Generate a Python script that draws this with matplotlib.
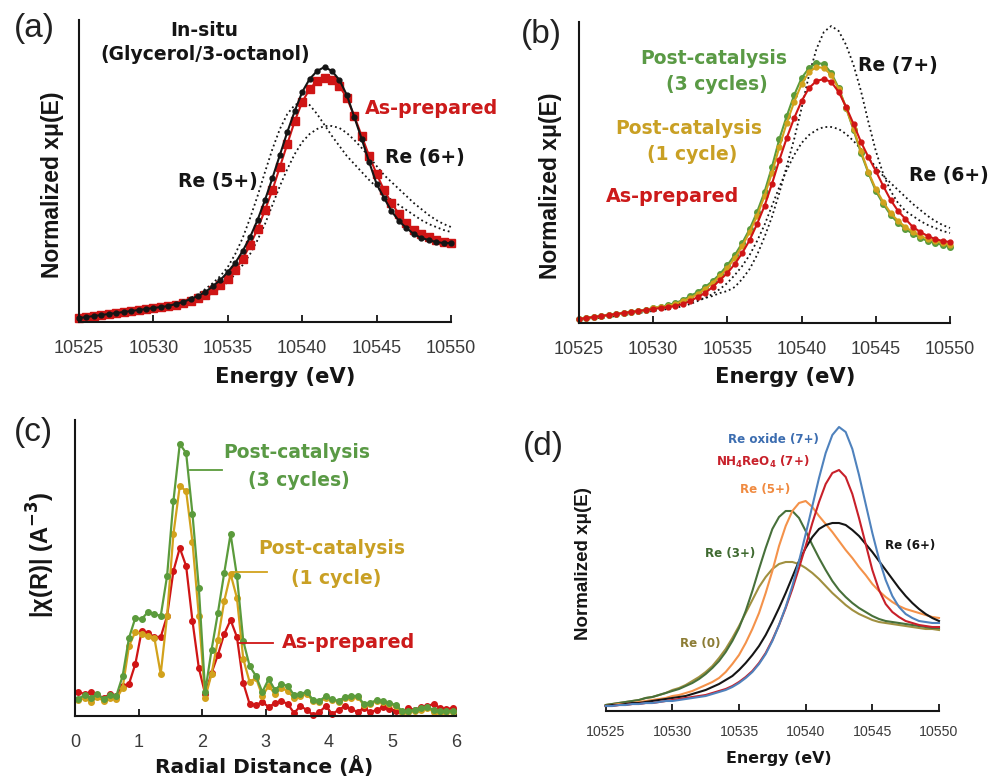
import numpy as np
import matplotlib
matplotlib.use("Agg")
import matplotlib.pyplot as plt

plt.rcParams['mathtext.fontset'] = 'dejavusans'
plt.rcParams['font.family'] = ['DejaVu Sans']

# ---------------- data ----------------
energy = np.linspace(10525, 10550, 51)          # eV, 0.5 eV steps
energy_ticks = [10525, 10530, 10535, 10540, 10545, 10550]

# (a) XANES, arbitrary normalized units
a_insitu = [4, 5, 6, 7, 8, 9, 10, 11, 12, 13, 14, 15, 16, 18, 20, 23, 26, 30, 36, 42,
            50, 59, 71, 85, 102, 122, 144, 167, 190, 211, 230, 243, 251, 255, 251, 242,
            227, 205, 183, 160, 138, 124, 111, 101, 94, 88, 84, 82, 80, 79, 79]
a_asprep = [4, 5, 6, 7, 8, 9, 10, 11, 12, 13, 14, 15, 16, 17, 19, 21, 24, 27, 32, 37,
            43, 52, 63, 77, 93, 112, 132, 155, 178, 201, 220, 233, 241, 244, 242, 236,
            224, 206, 186, 166, 148, 132, 119, 108, 99, 92, 88, 85, 82, 80, 79]
a_re5 = [4, 5, 6, 7, 8, 9, 10, 11, 12, 13, 14, 15, 17, 19, 21, 24, 28, 33, 39, 46,
         55, 68, 84, 104, 126, 150, 173, 193, 208, 217, 220, 217, 208, 197, 186, 176,
         166, 158, 150, 142, 135, 128, 122, 117, 112, 107, 102, 98, 95, 92, 90]
ref_re6 = [3, 4, 5, 5, 6, 7, 8, 9, 10, 11, 12, 13, 14, 15, 17, 19, 22, 25, 29, 34,
           40, 48, 57, 68, 82, 98, 117, 136, 153, 168, 180, 188, 193, 196, 196, 194,
           189, 182, 174, 165, 156, 147, 140, 133, 126, 119, 113, 107, 102, 98, 95]

# (b)
b_cyc3 = [4, 5, 6, 7, 8, 9, 10, 11, 12, 13, 15, 16, 18, 20, 23, 27, 31, 36, 42, 49,
          58, 68, 80, 94, 111, 131, 156, 184, 207, 228, 245, 255, 260, 259, 250, 235,
          215, 193, 170, 150, 132, 119, 108, 100, 94, 89, 85, 82, 80, 78, 76]
b_cyc1 = [4, 5, 6, 7, 8, 9, 10, 11, 12, 13, 15, 16, 17, 19, 22, 25, 29, 34, 40, 47,
          55, 65, 77, 91, 107, 127, 150, 176, 200, 221, 239, 251, 256, 255, 248, 234,
          215, 194, 172, 151, 134, 121, 110, 102, 96, 91, 87, 84, 82, 80, 78]
b_asprep = [4, 5, 6, 7, 8, 9, 10, 11, 12, 13, 14, 15, 16, 17, 19, 22, 26, 30, 36, 43,
            50, 59, 70, 83, 99, 117, 139, 163, 185, 205, 222, 235, 242, 244, 241, 231,
            216, 199, 181, 166, 152, 137, 123, 112, 104, 96, 91, 87, 84, 82, 81]
b_re7 = [4, 5, 6, 7, 8, 9, 10, 11, 12, 13, 15, 16, 17, 19, 20, 22, 23, 25, 27, 30,
         32, 36, 44, 54, 68, 86, 106, 130, 157, 184, 215, 248, 274, 291, 297, 292,
         278, 258, 232, 201, 172, 149, 132, 120, 112, 107, 102, 98, 95, 92, 90]

# (c) FT-EXAFS
radial = np.round(np.arange(0.05, 6.0, 0.1), 2)
r_ticks = [0, 1, 2, 3, 4, 5, 6]
c_cyc3 = [17, 21, 18, 22, 17, 21, 20, 40, 78, 98, 97, 104, 102, 100, 140, 215, 272, 263,
          202, 128, 24, 66, 103, 143, 182, 140, 75, 50, 40, 24, 37, 26, 32, 30, 21, 22,
          24, 16, 15, 20, 17, 15, 19, 20, 20, 12, 13, 16, 15, 13, 11, 5, 5, 6, 8, 9, 6,
          5, 5, 5]
c_cyc1 = [16, 18, 14, 19, 15, 18, 17, 28, 70, 84, 82, 80, 78, 42, 100, 182, 230, 225,
          174, 100, 18, 42, 76, 115, 142, 118, 57, 34, 38, 20, 30, 22, 28, 25, 18, 20,
          22, 15, 14, 18, 16, 14, 18, 18, 19, 11, 12, 15, 14, 12, 10, 4, 4, 5, 6, 8, 4,
          3, 4, 4]
c_asprep = [24, 22, 24, 21, 18, 22, 20, 30, 32, 52, 85, 83, 79, 79, 100, 145, 168, 150,
            95, 48, 22, 43, 61, 82, 96, 79, 33, 12, 11, 14, 9, 13, 15, 12, 3, 10, 6, 1,
            4, 10, 2, 6, 10, 7, 4, 8, 4, 6, 9, 7, 5, 4, 8, 6, 9, 10, 12, 8, 7, 8]

# (d) reference standards
d_oxide7 = [5, 5, 6, 6, 7, 7, 8, 8, 9, 10, 10, 11, 12, 13, 14, 15, 17, 19, 21, 24,
            28, 33, 39, 47, 57, 70, 86, 104, 125, 150, 177, 205, 233, 258, 276, 284,
            279, 262, 236, 207, 178, 152, 131, 115, 104, 97, 93, 90, 89, 88, 88]
d_nh4reo4 = [5, 5, 6, 6, 7, 7, 8, 8, 9, 10, 11, 12, 13, 14, 15, 16, 18, 20, 22, 25,
             29, 34, 40, 48, 58, 71, 86, 103, 122, 143, 165, 188, 209, 227, 238, 241,
             234, 217, 193, 167, 141, 121, 107, 99, 94, 90, 88, 86, 85, 84, 84]
d_re6 = [5, 6, 6, 7, 8, 8, 9, 10, 11, 12, 13, 14, 15, 17, 19, 21, 24, 27, 31, 35,
         41, 48, 56, 65, 76, 89, 103, 118, 134, 150, 163, 174, 182, 186, 188, 188,
         186, 181, 175, 167, 159, 150, 141, 132, 123, 115, 108, 102, 97, 93, 90]
d_re5 = [5, 6, 7, 7, 8, 9, 10, 11, 12, 13, 15, 16, 18, 20, 23, 26, 29, 33, 39, 47,
         56, 68, 82, 98, 118, 140, 165, 185, 200, 208, 210, 204, 195, 187, 179, 170,
         161, 153, 144, 136, 127, 120, 114, 109, 105, 102, 100, 98, 96, 94, 93]
d_re3 = [6, 7, 8, 9, 10, 11, 13, 14, 16, 18, 20, 22, 25, 28, 32, 37, 43, 50, 59, 70,
         83, 100, 120, 142, 163, 182, 194, 200, 200, 193, 180, 166, 153, 141, 130, 121,
         114, 108, 103, 99, 95, 92, 90, 89, 88, 87, 86, 85, 84, 83, 83]
d_re0 = [6, 7, 8, 9, 10, 11, 13, 14, 16, 18, 21, 23, 26, 30, 34, 39, 45, 53, 62, 73,
         85, 98, 111, 124, 134, 142, 147, 149, 149, 147, 143, 138, 132, 125, 118, 112,
         106, 101, 97, 94, 91, 89, 88, 87, 86, 85, 84, 83, 82, 82, 81]

# ---------------- style ----------------
RED = '#cf1515'
GREEN = '#5b9b3c'
GOLD = '#d2a21c'
GREEN_T = '#5a9a45'
GOLD_T = '#c9a024'
RED_T = '#cc1a1a'
INK = '#151515'

W, H = 989, 782
fig = plt.figure(figsize=(W / 100, H / 100), dpi=100)


def axes_px(x0, y0, x1, y1):
    return fig.add_axes([x0 / W, 1 - y1 / H, (x1 - x0) / W, (y1 - y0) / H])


def ftext(x, y, s, **kw):
    fig.text(x / W, 1 - y / H, s, ha='center', va='center', **kw)


def style(ax, ticks, labelsize=13, pad=13, left=True):
    for s in ['top', 'right']:
        ax.spines[s].set_visible(False)
    ax.spines['left'].set_visible(left)
    for s in ['left', 'bottom']:
        ax.spines[s].set_linewidth(1.5)
        ax.spines[s].set_color(INK)
    ax.set_yticks([])
    ax.set_xticks(ticks)
    ax.set_xticklabels([str(t) for t in ticks], fontfamily='Liberation Sans',
                       fontsize=labelsize, color='#3a3a3a')
    ax.tick_params(axis='x', direction='in', length=5, width=1.3, color=INK, pad=pad)
    ax.patch.set_alpha(0)


bold = dict(fontweight='bold', fontfamily='DejaVu Sans')

# ---------------- (a) ----------------
axa = axes_px(79, 20, 451, 322)
axa.set_xlim(10525, 10550)
axa.set_ylim(0, 302)
style(axa, energy_ticks)
axa.plot(energy, a_re5, ls=':', color=INK, lw=1.3, clip_on=False)
axa.plot(energy, ref_re6, ls=':', color=INK, lw=1.3, clip_on=False)
axa.plot(energy, a_asprep, color=RED, lw=1.5, marker='s', ms=5.5, mec=RED, clip_on=False)
axa.plot(energy, a_insitu, color=INK, lw=1.5, marker='o', ms=3.5, clip_on=False)
axa.text(10533.4, 292, 'In-situ', ha='center', va='center', fontsize=13.5, color=INK, **bold)
axa.text(10533.5, 267, '(Glycerol/3-octanol)', ha='center', va='center', fontsize=13.5, color=INK, **bold)
axa.text(10548.7, 214, 'As-prepared', ha='center', va='center', fontsize=13.8, color=RED_T, **bold)
axa.text(10548.25, 165, 'Re (6+)', ha='center', va='center', fontsize=13.5, color=INK, **bold)
axa.text(10534.3, 140, 'Re (5+)', ha='center', va='center', fontsize=13.5, color=INK, **bold)

# ---------------- (b) ----------------
axb = axes_px(579, 22, 950, 323)
axb.set_xlim(10525, 10550)
axb.set_ylim(0, 301)
style(axb, energy_ticks)
axb.plot(energy, b_re7, ls=':', color=INK, lw=1.3, clip_on=False)
axb.plot(energy, ref_re6, ls=':', color=INK, lw=1.3, clip_on=False)
axb.plot(energy, b_cyc3, color=GREEN, lw=1.5, marker='o', ms=4, clip_on=False)
axb.plot(energy, b_cyc1, color=GOLD, lw=1.5, marker='o', ms=3.5, clip_on=False)
axb.plot(energy, b_asprep, color=RED, lw=1.5, marker='o', ms=3.5, clip_on=False)
axb.text(10534.06, 264, 'Post-catalysis', ha='center', va='center', fontsize=13.5, color=GREEN_T, **bold)
axb.text(10534.28, 238, '(3 cycles)', ha='center', va='center', fontsize=13.5, color=GREEN_T, **bold)
axb.text(10532.37, 195, 'Post-catalysis', ha='center', va='center', fontsize=13.5, color=GOLD_T, **bold)
axb.text(10532.65, 169, '(1 cycle)', ha='center', va='center', fontsize=13.5, color=GOLD_T, **bold)
axb.text(10531.33, 127, 'As-prepared', ha='center', va='center', fontsize=13.8, color=RED_T, **bold)
axb.text(10546.5, 258, 'Re (7+)', ha='center', va='center', fontsize=13.5, color=INK, **bold)
axb.text(10549.93, 148, 'Re (6+)', ha='center', va='center', fontsize=13.5, color=INK, **bold)

# ---------------- (c) ----------------
axc = axes_px(75, 420, 456, 716)
axc.set_xlim(0, 6)
axc.set_ylim(0, 296)
style(axc, r_ticks)
axc.plot(radial, c_asprep, color=RED, lw=1.6, marker='o', ms=4, clip_on=False)
axc.plot(radial, c_cyc1, color=GOLD, lw=1.6, marker='o', ms=4, clip_on=False)
axc.plot(radial, c_cyc3, color=GREEN, lw=1.6, marker='o', ms=4, clip_on=False)
axc.plot([1.81, 2.31], [246, 246], color=GREEN, lw=1.3)
axc.plot([2.49, 3.02], [144, 144], color=GOLD, lw=1.3)
axc.plot([2.57, 3.12], [73, 73], color=RED, lw=1.3)
axc.text(3.49, 263, 'Post-catalysis', ha='center', va='center', fontsize=13.5, color=GREEN_T, **bold)
axc.text(3.53, 236, '(3 cycles)', ha='center', va='center', fontsize=13.5, color=GREEN_T, **bold)
axc.text(4.05, 167, 'Post-catalysis', ha='center', va='center', fontsize=13.5, color=GOLD_T, **bold)
axc.text(4.11, 138, '(1 cycle)', ha='center', va='center', fontsize=13.5, color=GOLD_T, **bold)
axc.text(4.30, 73, 'As-prepared', ha='center', va='center', fontsize=13.8, color=RED_T, **bold)

# ---------------- (d) ----------------
axd = axes_px(605.7, 420, 939, 711)
axd.set_xlim(10525, 10550)
axd.set_ylim(0, 291)
style(axd, energy_ticks, labelsize=10.2, pad=10, left=False)
axd.plot(energy, d_re0, color='#a09040', lw=1.5, clip_on=False)
axd.plot(energy, d_re3, color='#47703a', lw=1.5, clip_on=False)
axd.plot(energy, d_re5, color='#f4924a', lw=1.5, clip_on=False)
axd.plot(energy, d_re6, color=INK, lw=1.5, clip_on=False)
axd.plot(energy, d_nh4reo4, color='#c8202a', lw=1.5, clip_on=False)
axd.plot(energy, d_oxide7, color='#4f82bd', lw=1.5, clip_on=False)
sk = dict(ha='center', va='center', fontsize=8.6, **bold)
axd.text(10537.55, 271, 'Re oxide (7+)', color='#3c6db0', **sk)
axd.text(10536.8, 249, r'NH$_{\mathbf{4}}$ReO$_{\mathbf{4}}$ (7+)', color='#c8202a', **sk)
axd.text(10536.95, 221, 'Re (5+)', color='#f08a40', **sk)
axd.text(10534.36, 157, 'Re (3+)', color='#3f6a30', **sk)
axd.text(10547.83, 166, 'Re (6+)', color=INK, **sk)
axd.text(10532.1, 68, 'Re (0)', color='#8c7c34', **sk)

# ---------------- labels ----------------
ylab = dict(rotation=90, fontweight='bold', fontfamily='Liberation Sans', color=INK)
ftext(53, 185, 'Normalized xμ(E)', fontsize=16.5, **ylab)
ftext(550, 186, 'Normalized xμ(E)', fontsize=16.5, **ylab)
ftext(41, 555, r'|χ(R)| (A$^{\mathbf{-3}}$)', fontsize=17, **ylab)
ftext(583, 564, 'Normalized xμ(E)', fontsize=13.5, **ylab)

ftext(285, 377, 'Energy (eV)', fontsize=15.2, color=INK, **bold)
ftext(785, 377, 'Energy (eV)', fontsize=15.2, color=INK, **bold)
ftext(264, 767, 'Radial Distance (Å)', fontsize=14.5, color=INK, **bold)
ftext(779, 758, 'Energy (eV)', fontsize=11.4, color=INK, **bold)

letter = dict(fontsize=24, fontfamily='Liberation Sans', color='#222222')
ftext(34, 28, '(a)', **letter)
ftext(541, 34, '(b)', **letter)
ftext(33, 433, '(c)', **letter)
ftext(543, 446, '(d)', **letter)

fig.savefig('out.png', dpi=100)
